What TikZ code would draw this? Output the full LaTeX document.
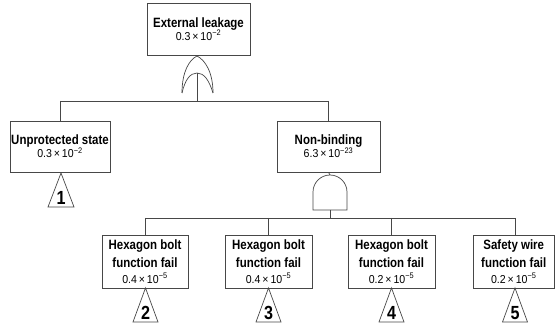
\documentclass[tikz,border=0pt]{standalone}
\usepackage{fontspec}
\setmainfont[FakeStretch=0.85]{Liberation Sans}
\newfontfamily\numfont[FakeStretch=0.92]{Liberation Sans}
\newcommand\nm[2]{{\numfont\mdseries\fontsize{11.5}{11.5}\selectfont #1\,×\,10\textsuperscript{−#2}}}
\begin{document}
\begin{tikzpicture}[x=1pt,y=-1pt,
  ln/.style={line width=0.7pt,draw=black!72},
  box/.style={ln,fill=white,align=center,inner sep=0pt,font=\fontsize{13.5}{13.5}\selectfont\bfseries},
  bbox/.style={box,minimum height=53pt,font=\fontsize{13.5}{17.5}\selectfont\bfseries},
  tnum/.style={anchor=base,inner sep=0pt,font=\fontsize{19}{19}\selectfont\bfseries}]
\useasboundingbox (0,0) rectangle (555,326);
% boxes
\node[box,minimum width=103pt,minimum height=52pt] (top) at (198.5,29) {External leakage\\[-0.5pt]\nm{0.3}{2}};
\node[box,minimum width=100pt,minimum height=51pt] (unp) at (60,146.5) {Unprotected state\\[-0.5pt]\nm{0.3}{2}};
\node[box,minimum width=103pt,minimum height=51pt] (nonb) at (328.5,146.5) {Non-binding\\[-0.5pt]\nm{6.3}{23}};
\node[bbox,minimum width=86pt] (h1) at (145,261.5) {Hexagon bolt\\[1pt]function fail\\[-2pt]\nm{0.4}{5}};
\node[bbox,minimum width=87pt] (h2) at (268.5,261.5) {Hexagon bolt\\[1pt]function fail\\[-2pt]\nm{0.4}{5}};
\node[bbox,minimum width=87pt] (h3) at (391.5,261.5) {Hexagon bolt\\[1pt]function fail\\[-2pt]\nm{0.2}{5}};
\node[bbox,minimum width=81.5pt] (sw) at (513.75,261.5) {Safety wire\\[1pt]function fail\\[-2pt]\nm{0.2}{5}};
% OR gate
\coordinate (orTop) at (197,56);
\coordinate (orIn) at (197,73);
\coordinate (busL) at (60,101);
\coordinate (busM) at (197,101);
\coordinate (busR) at (328.5,101);
\draw[ln] (182,93) .. controls (182,72) and (189,60) .. (orTop) .. controls (205,60) and (213,72) .. (213,93);
\draw[ln] (182,93) .. controls (185,80) and (190,73) .. (orIn) .. controls (204,73) and (209,80) .. (213,93);
\draw[ln] (top.south) -- (orTop);
\draw[ln] (orIn) -- (busM);
\draw[ln] (busL) -- (busR);
\draw[ln] (busL) -- (unp.north);
\draw[ln] (busR) -- (nonb.north);
% AND gate
\coordinate (andTop) at (330,175);
\coordinate (andBot) at (330,210);
\draw[ln] (313,210) -- (313,192) arc[start angle=180,end angle=0,radius=17pt] -- (347,210) -- cycle;
\draw[ln] (nonb.south) -- (andTop);
\coordinate (bb1) at (145,218);
\coordinate (bb2) at (268.5,218);
\coordinate (bb3) at (391.5,218);
\coordinate (bb4) at (515,218);
\coordinate (bbM) at (330,218);
\draw[ln] (andBot) -- (bbM);
\draw[ln] (bb1) -- (bb4);
\draw[ln] (bb1) -- (h1.north);
\draw[ln] (bb2) -- (h2.north);
\draw[ln] (bb3) -- (h3.north);
\draw[ln] (bb4) -- (bb4 |- sw.north);
% transfer triangles
\draw[ln] (61,173) -- (48,207) -- (74,207) -- cycle;
\node[tnum] (t1) at (61,204.5) {1};
\draw[ln] (145.5,288) -- (133,322) -- (158,322) -- cycle;
\node[tnum] (t2) at (145.5,319.5) {2};
\draw[ln] (268.5,288) -- (256,322) -- (281,322) -- cycle;
\node[tnum] (t3) at (268.5,319.5) {3};
\draw[ln] (391.5,288) -- (379,322) -- (404,322) -- cycle;
\node[tnum] (t4) at (391.5,319.5) {4};
\draw[ln] (515,288) -- (502.5,322) -- (527.5,322) -- cycle;
\node[tnum] (t5) at (515,319.5) {5};
\end{tikzpicture}
\end{document}
